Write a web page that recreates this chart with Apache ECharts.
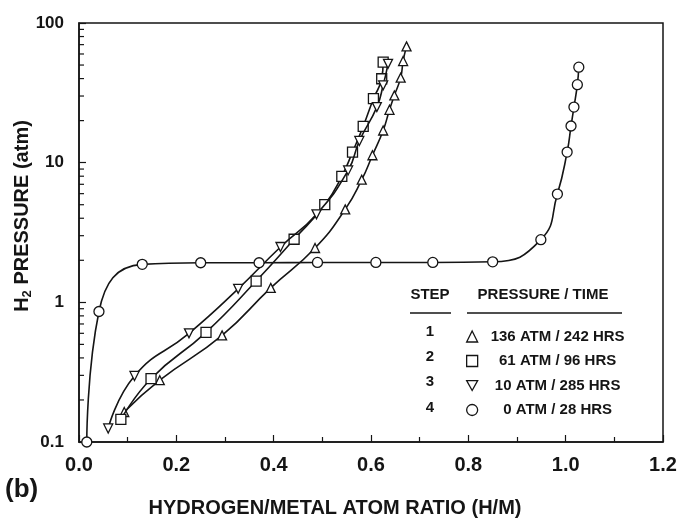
<!DOCTYPE html>
<html>
<head>
<meta charset="utf-8">
<script src="https://cdn.jsdelivr.net/npm/echarts@6/dist/echarts.min.js"></script>
<style>
html,body{margin:0;padding:0;background:#fff;}
#c{width:679px;height:521px;}
</style>
</head>
<body>
<div id="c"></div>
<script>
// ---- data ----
const steps = ['1', '2', '3', '4'];
const legendLabels = ['136 ATM / 242 HRS', '61 ATM / 96 HRS', '10 ATM / 285 HRS', '0 ATM / 28 HRS'];
const xTickLabels = ['0.0', '0.2', '0.4', '0.6', '0.8', '1.0', '1.2'];
const yTickLabels = ['0.1', '1', '10', '100'];
const yMinorTickValues = [0.2,0.3,0.4,0.5,0.6,0.7,0.8,0.9, 2,3,4,5,6,7,8,9, 20,30,40,50,60,70,80,90];

const step1X = [0.093, 0.166, 0.294, 0.394, 0.485, 0.547, 0.581, 0.603, 0.625, 0.638, 0.648, 0.661, 0.666, 0.673];
const step1Y = [0.164, 0.277, 0.58, 1.27, 2.45, 4.63, 7.55, 11.3, 17.0, 23.9, 30.3, 40.6, 53.4, 68];

const step2X = [0.086, 0.148, 0.261, 0.364, 0.442, 0.505, 0.540, 0.562, 0.584, 0.605, 0.622, 0.625];
const step2Y = [0.145, 0.284, 0.61, 1.42, 2.83, 5.0, 7.98, 11.9, 18.2, 28.7, 39.9, 52.5];

const step3X = [0.060, 0.114, 0.226, 0.327, 0.414, 0.488, 0.553, 0.576, 0.612, 0.625, 0.635];
const step3Y = [0.125, 0.297, 0.60, 1.25, 2.49, 4.27, 8.8, 14.3, 25, 35.8, 51];

const step4X = [0.016, 0.041, 0.130, 0.250, 0.370, 0.490, 0.610, 0.727, 0.850, 0.949, 0.983, 1.003, 1.011, 1.017, 1.024, 1.027];
const step4Y = [0.1, 0.86, 1.87, 1.92, 1.92, 1.93, 1.93, 1.93, 1.95, 2.81, 5.96, 11.9, 18.3, 25.0, 36.2, 48.3];

// ---- chart ----
const FONT = "'Liberation Sans', Arial, sans-serif";
const INK = '#151515';
const downTri = 'path://M0,0 L10,0 L5,9 Z';
const symbols = ['triangle', 'rect', downTri, 'circle'];
const sizes = [9, 10, 9, 10];
const xs = [step1X, step2X, step3X, step4X];
const ys = [step1Y, step2Y, step3Y, step4Y];

function pairs(a, b) { return a.map((v, i) => [v, b[i]]); }

const series = legendLabels.map((name, k) => ({
  name: name,
  type: 'line',
  data: pairs(xs[k], ys[k]),
  smooth: 0.5,
  symbol: symbols[k],
  symbolSize: sizes[k],
  showAllSymbol: true,
  lineStyle: { color: INK, width: 1.6 },
  itemStyle: { color: '#fff', borderColor: INK, borderWidth: 1.3 },
  emphasis: { disabled: true },
  z: 3 + k
}));

series.push({
  type: 'custom',
  name: 'minorTicks',
  data: yMinorTickValues.map(v => [0, v]),
  clip: false,
  silent: true,
  z: 10,
  renderItem: function (params, api) {
    const p = api.coord([0, api.value(1)]);
    return { type: 'line', shape: { x1: p[0], y1: p[1], x2: p[0] + 5, y2: p[1] },
             style: { stroke: INK, lineWidth: 1.2 } };
  }
});

const chart = echarts.init(document.getElementById('c'));
chart.setOption({
  animation: false,
  backgroundColor: '#fff',
  grid: { left: 79, right: 16, top: 23, bottom: 79, containLabel: false, outerBoundsMode: 'none',
    show: true, borderColor: INK, borderWidth: 1.5, backgroundColor: 'transparent' },
  xAxis: {
    type: 'value', min: 0, max: 1.2, interval: 0.2,
    axisLine: { show: true, lineStyle: { color: INK, width: 1.5 } },
    axisTick: { show: true, inside: true, length: 7, lineStyle: { color: INK, width: 1.2 } },
    minorTick: { show: true, splitNumber: 2, length: 5, lineStyle: { color: INK, width: 1.2 } },
    splitLine: { show: false },
    axisLabel: { margin: 13, color: INK, fontFamily: FONT, fontWeight: 'bold', fontSize: 20,
      formatter: v => xTickLabels[Math.round(v / 0.2)] }
  },
  yAxis: {
    type: 'log', logBase: 10, min: 0.1, max: 100,
    axisLine: { show: true, lineStyle: { color: INK, width: 1.5 } },
    axisTick: { show: true, inside: true, length: 7, lineStyle: { color: INK, width: 1.2 } },
    splitLine: { show: false },
    axisLabel: { margin: 15, color: INK, fontFamily: FONT, fontWeight: 'bold', fontSize: 17,
      formatter: v => yTickLabels[Math.round(Math.log10(v)) + 1] }
  },
  legend: {
    data: legendLabels.map((n, k) => ({ name: n, icon: symbols[k] })),
    orient: 'vertical', left: 461, top: 324,
    itemWidth: 11, itemHeight: 11, itemGap: 9.5,
    selectedMode: false,
    itemStyle: { color: '#fff', borderColor: INK, borderWidth: 1.3 },
    formatter: n => '{t|' + n + '}',
    textStyle: {
      rich: { t: { width: 150, align: 'center', fontFamily: FONT, fontWeight: 'bold', fontSize: 15, color: INK, lineHeight: 16 } }
    }
  },
  graphic: [
    { type: 'text', x: 430, y: 295, style: { text: 'STEP', fill: INK, font: 'bold 15px ' + FONT, align: 'center', verticalAlign: 'middle' } },
    { type: 'text', x: 543, y: 295, style: { text: 'PRESSURE / TIME', fill: INK, font: 'bold 15px ' + FONT, align: 'center', verticalAlign: 'middle' } },
    { type: 'line', shape: { x1: 410, y1: 313, x2: 451, y2: 313 }, style: { stroke: INK, lineWidth: 1.5 } },
    { type: 'line', shape: { x1: 467, y1: 313, x2: 622, y2: 313 }, style: { stroke: INK, lineWidth: 1.5 } }
  ].concat(steps.map((s, i) => ({
    type: 'text', x: 430, y: [331.7, 357.3, 381.7, 408.3][i],
    style: { text: s, fill: INK, font: 'bold 15px ' + FONT, align: 'center', verticalAlign: 'middle' }
  }))).concat([
    { type: 'text', x: 335, y: 508, style: { text: 'HYDROGEN/METAL ATOM RATIO (H/M)', fill: INK, font: 'bold 20px ' + FONT, align: 'center', verticalAlign: 'middle' } },
    { type: 'text', x: 5, y: 490, style: { text: '(b)', fill: INK, font: 'bold 26px ' + FONT, align: 'left', verticalAlign: 'middle' } },
    { type: 'text', x: 22, y: 216, rotation: Math.PI / 2,
      style: {
        text: '{m|H}{s|2}{m| PRESSURE (atm)}', align: 'center', verticalAlign: 'middle',
        rich: {
          m: { fontFamily: FONT, fontWeight: 'bold', fontSize: 20, fill: INK, lineHeight: 24 },
          s: { fontFamily: FONT, fontWeight: 'bold', fontSize: 13, fill: INK, lineHeight: 24, verticalAlign: 'bottom' }
        }
      } }
  ]),
  series: series
});
</script>
</body>
</html>
